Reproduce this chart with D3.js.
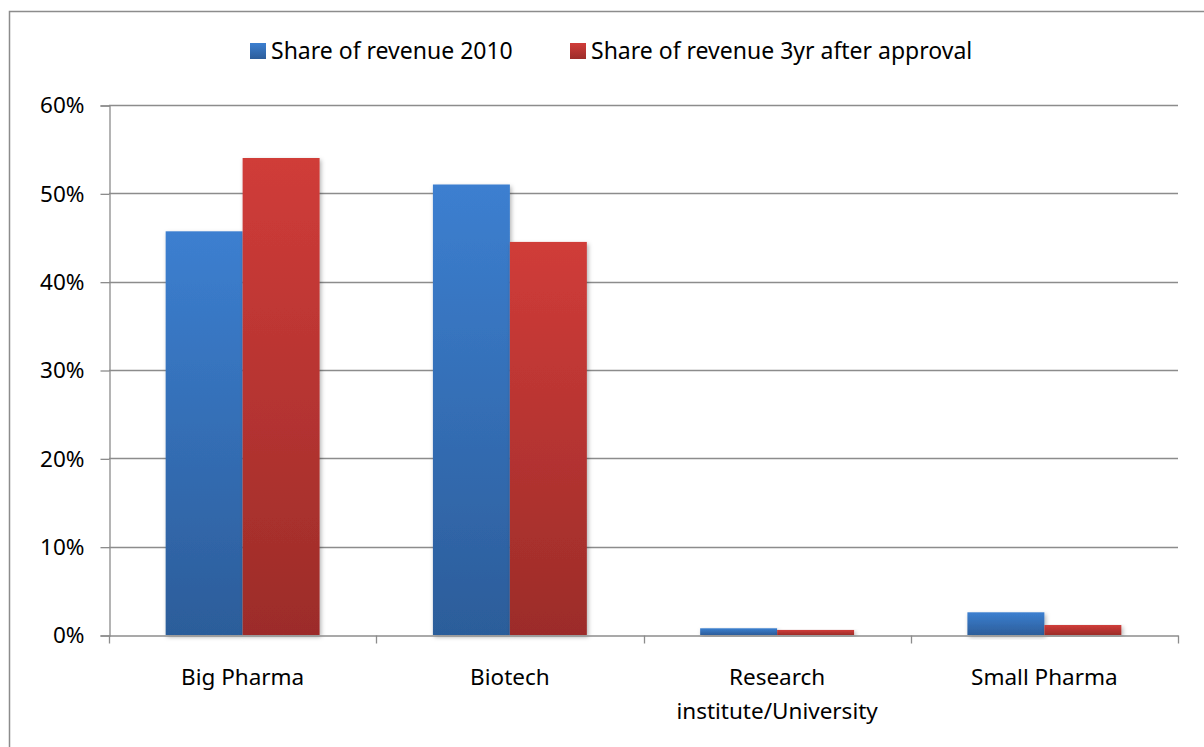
<!DOCTYPE html>
<html>
<head>
<meta charset="utf-8">
<script src="https://cdn.jsdelivr.net/npm/d3@7"></script>
<style>
  html, body { margin: 0; padding: 0; background: #fff; }
  svg { display: block; }
  text { font-family: "Noto Sans", "Open Sans", sans-serif; fill: #000; }
</style>
</head>
<body>
<svg id="chart" width="1204" height="747"></svg>
<script>
// Revenue share by company type
const categories = ["Big Pharma", "Biotech", "Research institute/University", "Small Pharma"];
const categoryLines = [["Big Pharma"], ["Biotech"], ["Research", "institute/University"], ["Small Pharma"]];
const seriesNames = ["Share of revenue 2010", "Share of revenue 3yr after approval"];
const share2010 = [0.457, 0.510, 0.0076, 0.0257];
const share3yr = [0.540, 0.445, 0.0057, 0.0113];
const yTicks = [0, 0.1, 0.2, 0.3, 0.4, 0.5, 0.6];

const svg = d3.select("#chart");
const W = 1204, H = 747;
const plot = { left: 109, right: 1178, top: 105, bottom: 635 };
const axisFont = 22.5, legendFont = 23;

const defs = svg.append("defs");
const grads = [
  { id: "gBlue", top: "#3c7fd0", bottom: "#2c5d9a" },
  { id: "gRed", top: "#d03c39", bottom: "#9c2c29" }
];
grads.forEach(g => {
  const lg = defs.append("linearGradient").attr("id", g.id)
    .attr("x1", 0).attr("y1", 0).attr("x2", 0).attr("y2", 1);
  lg.append("stop").attr("offset", "0%").attr("stop-color", g.top);
  lg.append("stop").attr("offset", "100%").attr("stop-color", g.bottom);
});
const shadow = defs.append("filter").attr("id", "shadow")
  .attr("x", "-10%").attr("y", "-10%").attr("width", "130%").attr("height", "130%");
shadow.append("feDropShadow").attr("dx", 1.5).attr("dy", 2).attr("stdDeviation", 2)
  .attr("flood-color", "#000").attr("flood-opacity", 0.3);

// Outer chart frame
svg.append("rect").attr("x", 9.5).attr("y", 11.5).attr("width", W + 20).attr("height", H + 20)
  .attr("fill", "none").attr("stroke", "#8c8c8c").attr("stroke-width", 1.5);

const x = d3.scaleBand().domain(categories).range([plot.left, plot.right]).paddingInner(0).paddingOuter(0);
const y = d3.scaleLinear().domain([0, 0.6]).range([plot.bottom, plot.top]);
const gapFrac = 0.212;
const xs = d3.scaleBand().domain(seriesNames)
  .range([x.bandwidth() * gapFrac, x.bandwidth() * (1 - gapFrac)]).padding(0);

// Gridlines
svg.append("g").selectAll("line").data(yTicks.slice(1)).join("line")
  .attr("x1", plot.left).attr("x2", plot.right)
  .attr("y1", d => Math.round(y(d)) + 0.5).attr("y2", d => Math.round(y(d)) + 0.5)
  .attr("stroke", "#8c8c8c").attr("stroke-width", 1.3);

// Y axis
const yAxis = d3.axisLeft(y).tickValues(yTicks).tickFormat(d3.format(".0%")).tickSize(9).tickPadding(16);
const yg = svg.append("g").attr("transform", `translate(${plot.left + 0.5},0.5)`).call(yAxis);
yg.select(".domain").attr("stroke", "#8c8c8c").attr("stroke-width", 1.3);
yg.selectAll(".tick line").attr("stroke", "#8c8c8c").attr("stroke-width", 1.3);
yg.selectAll(".tick text").attr("font-size", axisFont).attr("fill", "#000")
  .style("font-family", '"Noto Sans", sans-serif');

// Bars
const seriesData = [share2010, share3yr];
const fills = ["url(#gBlue)", "url(#gRed)"];
const groups = svg.append("g");
seriesNames.forEach((s, si) => {
  groups.append("g").selectAll("rect").data(categories).join("rect")
    .attr("x", c => x(c) + xs(s))
    .attr("width", xs.bandwidth())
    .attr("y", (c, i) => y(seriesData[si][i]))
    .attr("height", (c, i) => y(0) - y(seriesData[si][i]))
    .attr("fill", fills[si])
    .attr("filter", "url(#shadow)");
});

// X axis
const xAxis = d3.axisBottom(x).tickSize(0).tickFormat("");
const xg = svg.append("g").attr("transform", `translate(0,${plot.bottom + 0.5})`).call(xAxis);
xg.select(".domain").attr("stroke", "#8c8c8c").attr("stroke-width", 1.3);
xg.selectAll(".tick").remove();
const boundaries = categories.map(c => x(c)).concat([plot.right]);
xg.selectAll("line.sep").data(boundaries).join("line").attr("class", "sep")
  .attr("x1", d => Math.round(d) + 0.5).attr("x2", d => Math.round(d) + 0.5)
  .attr("y1", 0).attr("y2", 8)
  .attr("stroke", "#8c8c8c").attr("stroke-width", 1.3);

// Category labels
categories.forEach((c, i) => {
  const t = svg.append("text")
    .attr("x", x(c) + x.bandwidth() / 2)
    .attr("y", 685)
    .attr("text-anchor", "middle")
    .attr("font-size", axisFont);
  categoryLines[i].forEach((line, li) => {
    t.append("tspan").attr("x", x(c) + x.bandwidth() / 2).attr("dy", li === 0 ? 0 : 34).text(line);
  });
});

// Legend
const legendItems = [
  { name: seriesNames[0], fill: "url(#gBlue)", x: 250 },
  { name: seriesNames[1], fill: "url(#gRed)", x: 570 }
];
const lg = svg.append("g");
legendItems.forEach(it => {
  lg.append("rect").attr("x", it.x).attr("y", 43).attr("width", 16).attr("height", 16).attr("fill", it.fill);
  lg.append("text").attr("x", it.x + 21).attr("y", 59).attr("font-size", legendFont).text(it.name);
});
</script>
</body>
</html>
